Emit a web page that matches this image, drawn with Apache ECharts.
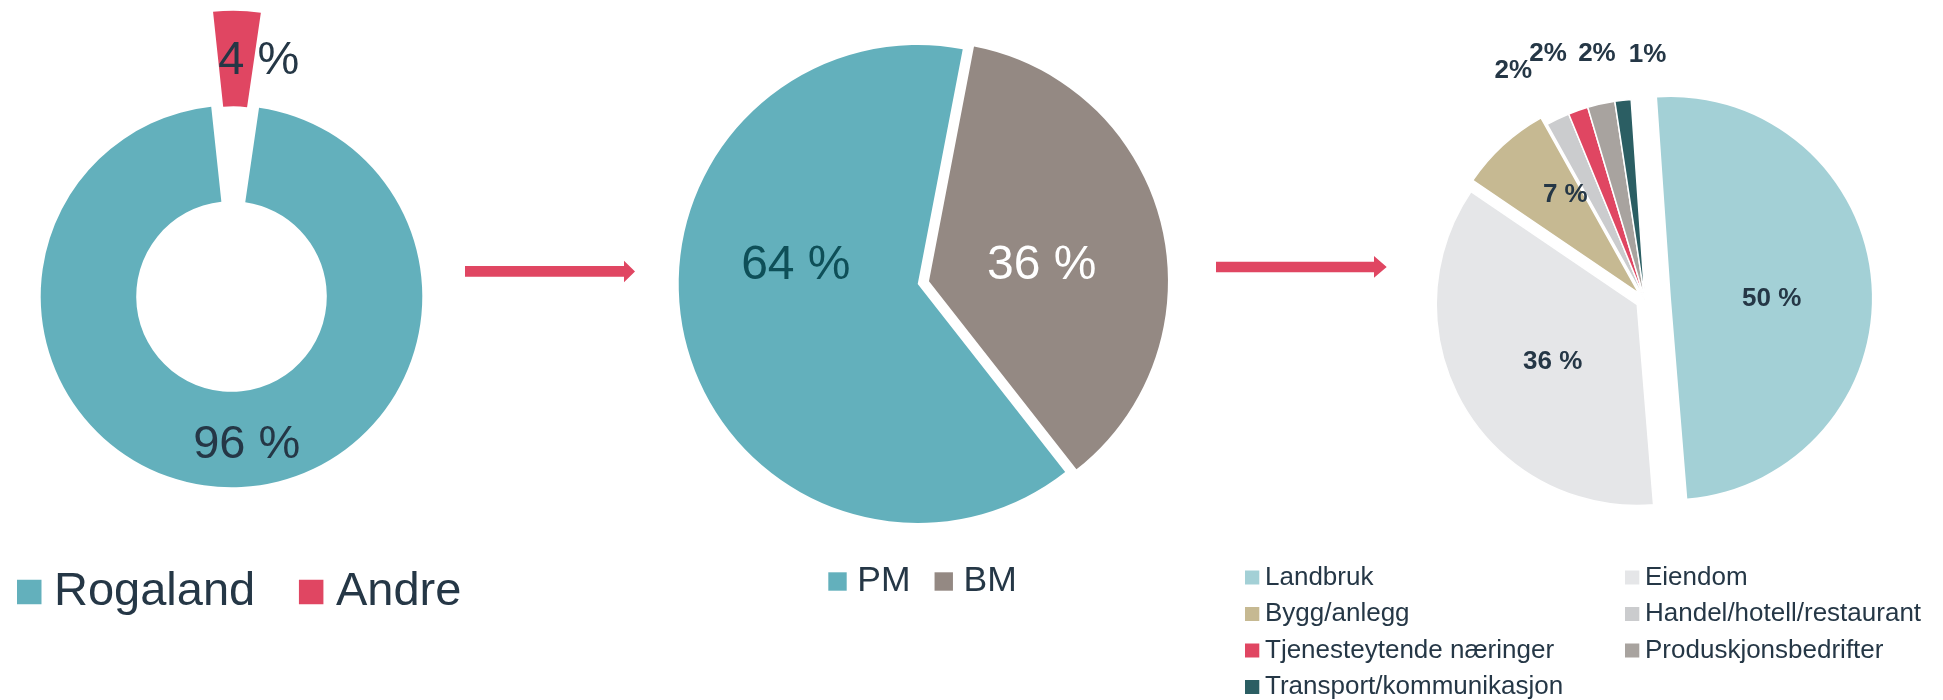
<!DOCTYPE html>
<html>
<head>
<meta charset="utf-8">
<script src="https://cdn.jsdelivr.net/npm/echarts@6/dist/echarts.min.js"></script>
<style>
html,body{margin:0;padding:0;background:#ffffff;}
#chart{width:1943px;height:700px;}
</style>
</head>
<body>
<div id="chart"></div>
<script>
// ---- data ----
const regionNames = ['Rogaland', 'Andre'];
const regionValues = [96, 4];

const typeNames = ['PM', 'BM'];
const typeValues = [63.6, 36.4];

const sectorNames = ['Landbruk', 'Eiendom', 'Bygg/anlegg', 'Handel/hotell/restaurant',
  'Tjenesteytende næringer', 'Produskjonsbedrifter', 'Transport/kommunikasjon'];
const sectorValues = [49.8, 35.8, 7.4, 1.9, 1.6, 2.2, 1.3];

const sectorLegendCol1 = ['Landbruk', 'Bygg/anlegg', 'Tjenesteytende næringer', 'Transport/kommunikasjon'];
const sectorLegendCol2 = ['Eiendom', 'Handel/hotell/restaurant', 'Produskjonsbedrifter'];

// ---- styles ----
const FONT = '"Liberation Sans", Arial, Helvetica, sans-serif';
const INK = '#253746';
const RED = '#E04662';
const TEAL = '#63B0BC';
const regionColors = [TEAL, RED];
const typeColors = [TEAL, '#948983'];
const typeLabelColors = ['#0E4F58', '#FFFFFF'];
const sectorColors = ['#A3D0D6', '#E5E6E8', '#C6B992', '#CBCCCE', RED, '#A8A39F', '#2B5E63'];
const sectorLabelSpaced = [true, true, true, false, false, false, false];

// label nudges (dx, dy) relative to the library's own inside position
const regionLabelShift = [[18, 3], [22.6, 6]];
const typeLabelShift = [[-2.8, -47.3], [-6.3, 13]];
const sectorLabelShift = [[-2.4, 8.1], [4.9, 5.2], [-3.7, -22.1], [-86.7, -135.8],
  [-62.5, -148.9], [-25.5, -145.5], [13.9, -142.4]];

const shiftFn = (arr) => (p) => ({ dx: arr[p.dataIndex][0], dy: arr[p.dataIndex][1] });

const chart = echarts.init(document.getElementById('chart'), null, { renderer: 'canvas' });

const SECTOR_CENTER = [1645, 300];
const SECTOR_RADIUS = 201;
const SECTOR_START = 93.95;

function sectorSeries(visibleIdx, selectedIdx, offset, border) {
  return {
    type: 'pie',
    center: SECTOR_CENTER,
    radius: SECTOR_RADIUS,
    startAngle: SECTOR_START,
    silent: true,
    animation: false,
    selectedMode: 'multiple',
    selectedOffset: offset,
    avoidLabelOverlap: false,
    emphasis: { disabled: true },
    labelLine: { show: false },
    label: {
      show: true, position: 'inside', fontFamily: FONT, fontSize: 26, fontWeight: 'bold', color: INK,
      formatter: (p) => Math.round(p.value) + (sectorLabelSpaced[p.dataIndex] ? ' %' : '%')
    },
    labelLayout: shiftFn(sectorLabelShift),
    data: sectorNames.map((n, i) => {
      const vis = visibleIdx.indexOf(i) >= 0;
      return {
        name: n,
        value: sectorValues[i],
        selected: selectedIdx.indexOf(i) >= 0,
        itemStyle: vis
          ? { color: sectorColors[i], borderColor: '#ffffff', borderWidth: border, opacity: 1 }
          : { color: sectorColors[i], borderWidth: 0, opacity: 0 },
        label: { show: vis }
      };
    })
  };
}

const option = {
  backgroundColor: '#ffffff',
  animation: false,
  graphic: [
    {
      type: 'polygon', silent: true,
      shape: { points: [[465, 266], [624, 266], [624, 260.7], [635, 271.5], [624, 282.3], [624, 276.7], [465, 276.7]] },
      style: { fill: RED }
    },
    {
      type: 'polygon', silent: true,
      shape: { points: [[1216, 261.7], [1374, 261.7], [1374, 256], [1386.7, 267], [1374, 277.7], [1374, 272.3], [1216, 272.3]] },
      style: { fill: RED }
    }
  ],
  legend: [
    {
      data: regionNames, orient: 'horizontal', left: 17, top: 568.5, padding: 0,
      icon: 'rect', itemWidth: 24.5, itemHeight: 24.5, itemGap: 43.7, selectedMode: false,
      itemStyle: { borderWidth: 0, opacity: 1 },
      textStyle: { fontFamily: FONT, fontSize: 47, color: INK, padding: [0, 0, 0, 7.5] }
    },
    {
      data: typeNames, orient: 'horizontal', left: 828.3, top: 563.5, padding: 0,
      icon: 'rect', itemWidth: 18.4, itemHeight: 18.4, itemGap: 24, selectedMode: false,
      itemStyle: { borderWidth: 0, opacity: 1 },
      textStyle: { fontFamily: FONT, fontSize: 35.5, color: INK, padding: [0, 0, 0, 5.6] }
    },
    {
      data: sectorLegendCol1, orient: 'vertical', left: 1245, top: 564.5, padding: 0,
      icon: 'rect', itemWidth: 14.3, itemHeight: 14, itemGap: 10.5, selectedMode: false,
      itemStyle: { borderWidth: 0, opacity: 1 },
      textStyle: { fontFamily: FONT, fontSize: 26, color: INK, padding: [0, 0, 0, 0.7] }
    },
    {
      data: sectorLegendCol2, orient: 'vertical', left: 1625, top: 564.5, padding: 0,
      icon: 'rect', itemWidth: 14.3, itemHeight: 14, itemGap: 10.5, selectedMode: false,
      itemStyle: { borderWidth: 0, opacity: 1 },
      textStyle: { fontFamily: FONT, fontSize: 26, color: INK, padding: [0, 0, 0, 0.7] }
    }
  ],
  series: [
    {
      type: 'pie',
      center: [231.5, 296.5],
      radius: [95.3, 190.8],
      startAngle: 81.7,
      silent: true,
      animation: false,
      selectedMode: 'multiple',
      selectedOffset: 95,
      avoidLabelOverlap: false,
      emphasis: { disabled: true },
      labelLine: { show: false },
      label: {
        show: true, position: 'inside', fontFamily: FONT, fontSize: 47, color: INK,
        formatter: (p) => Math.round(p.value) + ' %'
      },
      labelLayout: shiftFn(regionLabelShift),
      data: regionNames.map((n, i) => ({
        name: n, value: regionValues[i], selected: i === 1,
        itemStyle: { color: regionColors[i], borderWidth: 0 }
      }))
    },
    {
      type: 'pie',
      center: [917.7, 284],
      radius: 239,
      startAngle: 308.1,
      silent: true,
      animation: false,
      selectedMode: 'multiple',
      selectedOffset: 11.6,
      avoidLabelOverlap: false,
      emphasis: { disabled: true },
      labelLine: { show: false },
      label: {
        show: true, position: 'inside', fontFamily: FONT, fontSize: 48,
        formatter: (p) => Math.round(p.value) + ' %'
      },
      labelLayout: shiftFn(typeLabelShift),
      data: typeNames.map((n, i) => ({
        name: n, value: typeValues[i], selected: i === 1,
        itemStyle: { color: typeColors[i], borderWidth: 0 },
        label: { color: typeLabelColors[i] }
      }))
    },
    sectorSeries([0], [0], 26, 0),
    sectorSeries([1, 2, 3, 4, 5, 6], [1, 2], 9, 1.5)
  ]
};

chart.setOption(option);
</script>
</body>
</html>
